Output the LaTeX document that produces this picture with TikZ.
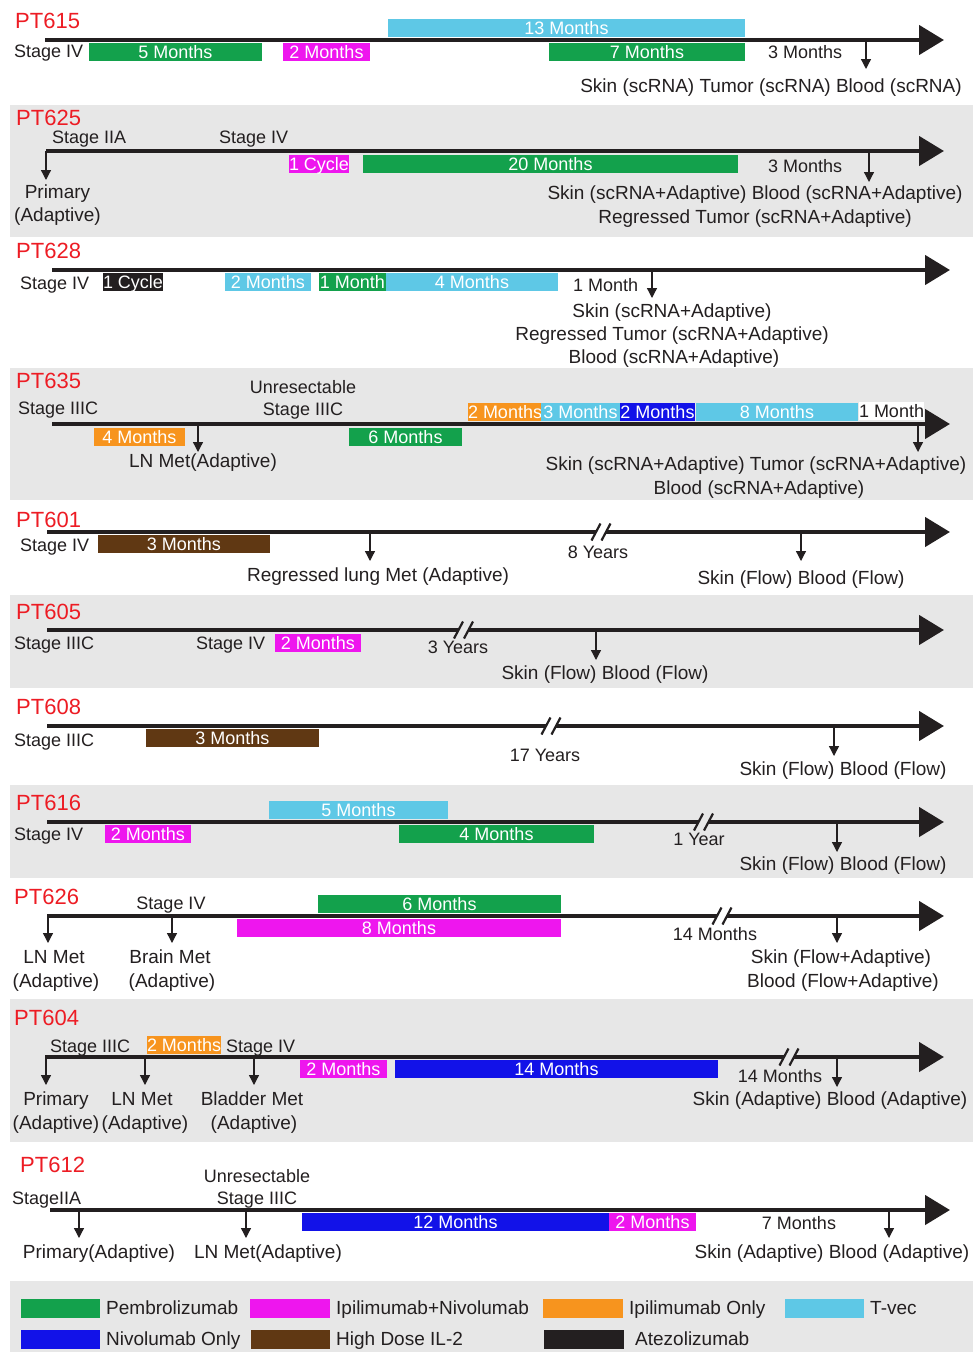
\documentclass[tikz,border=0pt]{standalone}
\usepackage{fontspec}
\setmainfont{Liberation Sans}
\usetikzlibrary{arrows.meta}
\definecolor{pemb}{RGB}{19,161,76}
\definecolor{ipn}{RGB}{238,22,238}
\definecolor{ipi}{RGB}{247,148,30}
\definecolor{tvec}{RGB}{94,200,230}
\definecolor{nivo}{RGB}{18,18,232}
\definecolor{iltwo}{RGB}{96,56,19}
\definecolor{atez}{RGB}{35,31,32}
\definecolor{bgg}{RGB}{231,231,231}
\definecolor{ink}{RGB}{35,31,32}
\definecolor{ptred}{RGB}{237,28,36}
\newcommand{\fsS}{\fontsize{19}{23}\selectfont}
\newcommand{\fsT}{\fontsize{18}{22}\selectfont}
\newcommand{\fsP}{\fontsize{22}{26}\selectfont}
\newcommand{\tlbreak}[3]{%
  \fill[#3] (#1-9.5,#2+8.5) -- (#1-0.5,#2-8.5) -- (#1+9.5,#2-8.5) -- (#1+0.5,#2+8.5) -- cycle;
  \draw[ink, line width=2.2pt] (#1-9.5,#2+8.5) -- (#1-0.5,#2-8.5) (#1+0.5,#2+8.5) -- (#1+9.5,#2-8.5);}
\begin{document}
\begin{tikzpicture}[x=1pt,y=-1pt,
  tl/.style={ink, line width=4.6pt, -{Triangle[length=25pt,width=29pt]}},
  da/.style={ink, line width=1.3pt, -{Triangle[length=10pt,width=10pt]}},
  samp/.style={font=\fsS, text=ink, inner sep=0pt, anchor=base, yshift=-6.8pt},
  tx/.style={font=\fsT, text=ink, inner sep=0pt, anchor=base, yshift=-6.45pt},
  ptl/.style={font=\fsP, text=ptred, inner sep=0pt, anchor=base west, yshift=-7.9pt},
  barn/.style={rectangle, draw=none, inner sep=0pt, outer sep=0pt, minimum height=18pt,
    anchor=north west, text=white, font=\fsT, text height=12.9pt, text depth=0pt},
  band/.style={fill=bgg}]
\useasboundingbox (0,0) rectangle (974,1352);
\fill[white] (0,0) rectangle (974,1352);

% ---------------- PT615
\node[ptl] (n615) at (15,20.5) {PT615};
\node[barn, fill=tvec, minimum width=357pt] (b615a) at (388,19) {13 Months};
\node[barn, fill=pemb, minimum width=173pt] (b615b) at (89,43) {5 Months};
\node[barn, fill=ipn, minimum width=87pt] (b615c) at (283,43) {2 Months};
\node[barn, fill=pemb, minimum width=196pt] (b615d) at (549,43) {7 Months};
\coordinate (l615a) at (45,40); \coordinate (l615b) at (944,40);
\draw[tl] (l615a) -- (l615b);
\node[tx, anchor=base west] (st615) at (14,51) {Stage IV};
\node[tx, anchor=base west] (m615) at (768,52) {3 Months};
\coordinate (d615a) at (866,40); \coordinate (d615b) at (866,69);
\draw[da] (d615a) -- (d615b);
\node[samp] (s615) at (771,86) {Skin (scRNA) Tumor (scRNA) Blood (scRNA)};

% ---------------- PT625
\fill[band] (10,105) rectangle (973,237);
\node[ptl] (n625) at (16,117.5) {PT625};
\node[tx, anchor=base west] (st625a) at (52,137) {Stage IIA};
\node[tx, anchor=base west] (st625b) at (219,137) {Stage IV};
\node[barn, fill=ipn, minimum width=60pt] (b625a) at (289,155) {1 Cycle};
\node[barn, fill=pemb, minimum width=375pt] (b625b) at (363,155) {20 Months};
\coordinate (l625a) at (46,151); \coordinate (l625b) at (944,151);
\draw[tl] (l625a) -- (l625b);
\node[tx, anchor=base west] (m625) at (768,166) {3 Months};
\coordinate (d625a) at (46,151); \coordinate (d625b) at (46,180);
\draw[da] (d625a) -- (d625b);
\coordinate (d625c) at (869,151); \coordinate (d625d) at (869,182);
\draw[da] (d625c) -- (d625d);
\node[samp] (s625a) at (57.5,192) {Primary};
\node[samp] (s625b) at (57.5,215) {(Adaptive)};
\node[samp] (s625c) at (755,193) {Skin (scRNA+Adaptive) Blood (scRNA+Adaptive)};
\node[samp] (s625d) at (755,217) {Regressed Tumor (scRNA+Adaptive)};

% ---------------- PT628
\node[ptl] (n628) at (16,251) {PT628};
\node[barn, fill=atez, minimum width=59pt] (b628a) at (103,273) {1 Cycle};
\node[barn, fill=tvec, minimum width=86pt] (b628b) at (225,273) {2 Months};
\node[barn, fill=pemb, minimum width=67pt] (b628c) at (319,273) {1 Month};
\node[barn, fill=tvec, minimum width=172pt] (b628d) at (386,273) {4 Months};
\coordinate (l628a) at (52,270); \coordinate (l628b) at (950,270);
\draw[tl] (l628a) -- (l628b);
\node[tx, anchor=base west] (st628) at (20,283) {Stage IV};
\node[tx, anchor=base west] (m628) at (573,285) {1 Month};
\coordinate (d628a) at (652,270); \coordinate (d628b) at (652,298);
\draw[da] (d628a) -- (d628b);
\node[samp] (s628a) at (672,311) {Skin (scRNA+Adaptive)};
\node[samp] (s628b) at (672,334) {Regressed Tumor (scRNA+Adaptive)};
\node[samp] (s628c) at (674,357) {Blood (scRNA+Adaptive)};

% ---------------- PT635
\fill[band] (10,368) rectangle (973,500);
\node[ptl] (n635) at (16,381) {PT635};
\node[tx, anchor=base west] (st635a) at (18,408) {Stage IIIC};
\node[tx] (st635b) at (303,387) {Unresectable};
\node[tx] (st635c) at (303,409) {Stage IIIC};
\node[barn, fill=ipi, minimum width=91pt] (b635a) at (94,428) {4 Months};
\node[barn, fill=pemb, minimum width=113pt] (b635b) at (349,428) {6 Months};
\node[barn, fill=ipi, minimum width=73pt] (b635c) at (468,403) {2 Months};
\node[barn, fill=tvec, minimum width=79pt] (b635d) at (541,403) {3 Months};
\node[barn, fill=nivo, minimum width=75pt] (b635e) at (620,403) {2 Months};
\node[barn, fill=tvec, minimum width=162pt] (b635f) at (696,403) {8 Months};
\node[barn, fill=white, text=ink, minimum width=65pt] (b635g) at (859,402) {1 Month};
\coordinate (l635a) at (52,424); \coordinate (l635b) at (950,424);
\draw[tl] (l635a) -- (l635b);
\coordinate (d635a) at (198,424); \coordinate (d635b) at (198,452);
\draw[da] (d635a) -- (d635b);
\coordinate (d635c) at (918,424); \coordinate (d635d) at (918,452);
\draw[da] (d635c) -- (d635d);
\node[samp] (s635a) at (203,461) {LN Met(Adaptive)};
\node[samp] (s635b) at (756,464) {Skin (scRNA+Adaptive) Tumor (scRNA+Adaptive)};
\node[samp] (s635c) at (759,488) {Blood (scRNA+Adaptive)};

% ---------------- PT601
\node[ptl] (n601) at (16,520) {PT601};
\node[barn, fill=iltwo, minimum width=172pt] (b601a) at (98,535) {3 Months};
\coordinate (l601a) at (47,532); \coordinate (l601b) at (950,532);
\draw[tl] (l601a) -- (l601b);
\tlbreak{601}{532}{white}
\node[tx, anchor=base west] (st601) at (20,545) {Stage IV};
\coordinate (d601a) at (370,532); \coordinate (d601b) at (370,561);
\draw[da] (d601a) -- (d601b);
\coordinate (d601c) at (801,532); \coordinate (d601d) at (801,561);
\draw[da] (d601c) -- (d601d);
\node[samp] (s601a) at (378,575) {Regressed lung Met (Adaptive)};
\node[tx] (y601) at (598,552) {8 Years};
\node[samp] (s601b) at (801,578) {Skin (Flow) Blood (Flow)};

% ---------------- PT605
\fill[band] (10,595) rectangle (973,688);
\node[ptl] (n605) at (16,612) {PT605};
\node[barn, fill=ipn, minimum width=86pt] (b605a) at (275,634) {2 Months};
\coordinate (l605a) at (47,630); \coordinate (l605b) at (944,630);
\draw[tl] (l605a) -- (l605b);
\tlbreak{463.5}{630}{bgg}
\node[tx, anchor=base west] (st605a) at (14,643) {Stage IIIC};
\node[tx, anchor=base west] (st605b) at (196,643) {Stage IV};
\node[tx] (y605) at (458,647) {3 Years};
\coordinate (d605a) at (596,630); \coordinate (d605b) at (596,660);
\draw[da] (d605a) -- (d605b);
\node[samp] (s605) at (605,673) {Skin (Flow) Blood (Flow)};

% ---------------- PT608
\node[ptl] (n608) at (16,707) {PT608};
\node[barn, fill=iltwo, minimum width=173pt] (b608a) at (146,729) {3 Months};
\coordinate (l608a) at (47,726); \coordinate (l608b) at (944,726);
\draw[tl] (l608a) -- (l608b);
\tlbreak{551}{726}{white}
\node[tx, anchor=base west] (st608) at (14,740) {Stage IIIC};
\node[tx] (y608) at (545,755) {17 Years};
\coordinate (d608a) at (834,726); \coordinate (d608b) at (834,756);
\draw[da] (d608a) -- (d608b);
\node[samp] (s608) at (843,769) {Skin (Flow) Blood (Flow)};

% ---------------- PT616
\fill[band] (10,785) rectangle (973,878);
\node[ptl] (n616) at (16,803) {PT616};
\node[barn, fill=tvec, minimum width=179pt] (b616a) at (269,801) {5 Months};
\node[barn, fill=ipn, minimum width=86pt] (b616b) at (105,825) {2 Months};
\node[barn, fill=pemb, minimum width=195pt] (b616c) at (399,825) {4 Months};
\coordinate (l616a) at (47,822); \coordinate (l616b) at (944,822);
\draw[tl] (l616a) -- (l616b);
\tlbreak{703.5}{822}{bgg}
\node[tx, anchor=base west] (st616) at (14,834) {Stage IV};
\node[tx] (y616) at (699,839) {1 Year};
\coordinate (d616a) at (837,822); \coordinate (d616b) at (837,852);
\draw[da] (d616a) -- (d616b);
\node[samp] (s616) at (843,864) {Skin (Flow) Blood (Flow)};

% ---------------- PT626
\node[ptl] (n626) at (14,897) {PT626};
\node[tx] (st626) at (171,903) {Stage IV};
\node[barn, fill=pemb, minimum width=243pt] (b626a) at (318,895) {6 Months};
\node[barn, fill=ipn, minimum width=324pt] (b626b) at (237,919) {8 Months};
\coordinate (l626a) at (47,916); \coordinate (l626b) at (944,916);
\draw[tl] (l626a) -- (l626b);
\tlbreak{722}{916}{white}
\coordinate (d626a) at (48,916); \coordinate (d626b) at (48,943);
\draw[da] (d626a) -- (d626b);
\coordinate (d626c) at (172,916); \coordinate (d626d) at (172,943);
\draw[da] (d626c) -- (d626d);
\coordinate (d626e) at (837,916); \coordinate (d626f) at (837,943);
\draw[da] (d626e) -- (d626f);
\node[samp] (s626a) at (54,957) {LN Met};
\node[samp] (s626b) at (56,981) {(Adaptive)};
\node[samp] (s626c) at (170,957) {Brain Met};
\node[samp] (s626d) at (172,981) {(Adaptive)};
\node[tx] (y626) at (715,934) {14 Months};
\node[samp] (s626e) at (841,957) {Skin (Flow+Adaptive)};
\node[samp] (s626f) at (843,981) {Blood (Flow+Adaptive)};

% ---------------- PT604
\fill[band] (10,999) rectangle (973,1142);
\node[ptl] (n604) at (14,1018) {PT604};
\node[tx, anchor=base west] (st604a) at (50,1046) {Stage IIIC};
\node[barn, fill=ipi, minimum width=73pt] (b604a) at (147,1036) {2 Months};
\node[tx, anchor=base west] (st604b) at (226,1046) {Stage IV};
\node[barn, fill=ipn, minimum width=87pt] (b604b) at (300,1060) {2 Months};
\node[barn, fill=nivo, minimum width=323pt] (b604c) at (395,1060) {14 Months};
\coordinate (l604a) at (45,1057); \coordinate (l604b) at (944,1057);
\draw[tl] (l604a) -- (l604b);
\tlbreak{789}{1057}{bgg}
\coordinate (d604a) at (46,1057); \coordinate (d604b) at (46,1085);
\draw[da] (d604a) -- (d604b);
\coordinate (d604c) at (145,1057); \coordinate (d604d) at (145,1085);
\draw[da] (d604c) -- (d604d);
\coordinate (d604e) at (254,1057); \coordinate (d604f) at (254,1085);
\draw[da] (d604e) -- (d604f);
\coordinate (d604g) at (837,1057); \coordinate (d604h) at (837,1087);
\draw[da] (d604g) -- (d604h);
\node[tx] (y604) at (780,1076) {14 Months};
\node[samp] (s604a) at (56,1099) {Primary};
\node[samp] (s604b) at (56,1123) {(Adaptive)};
\node[samp] (s604c) at (142,1099) {LN Met};
\node[samp] (s604d) at (145,1123) {(Adaptive)};
\node[samp] (s604e) at (252,1099) {Bladder Met};
\node[samp] (s604f) at (254,1123) {(Adaptive)};
\node[samp] (s604g) at (830,1099) {Skin (Adaptive) Blood (Adaptive)};

% ---------------- PT612
\node[ptl] (n612) at (20,1165) {PT612};
\node[tx] (st612a) at (257,1176) {Unresectable};
\node[tx] (st612b) at (257,1198) {Stage IIIC};
\node[tx, anchor=base west] (st612c) at (12,1198) {StageIIA};
\node[barn, fill=nivo, minimum width=307pt] (b612a) at (302,1213) {12 Months};
\node[barn, fill=ipn, minimum width=87pt] (b612b) at (609,1213) {2 Months};
\coordinate (l612a) at (50,1210); \coordinate (l612b) at (950,1210);
\draw[tl] (l612a) -- (l612b);
\coordinate (d612a) at (79,1210); \coordinate (d612b) at (79,1238);
\draw[da] (d612a) -- (d612b);
\coordinate (d612c) at (246,1210); \coordinate (d612d) at (246,1238);
\draw[da] (d612c) -- (d612d);
\coordinate (d612e) at (889,1210); \coordinate (d612f) at (889,1238);
\draw[da] (d612e) -- (d612f);
\node[tx] (m612) at (799,1223) {7 Months};
\node[samp] (s612a) at (99,1252) {Primary(Adaptive)};
\node[samp] (s612b) at (268,1252) {LN Met(Adaptive)};
\node[samp] (s612c) at (832,1252) {Skin (Adaptive) Blood (Adaptive)};

% ---------------- Legend
\fill[band] (10,1281) rectangle (973,1352);
\node[barn, fill=pemb, minimum width=79pt, minimum height=19pt] (k1) at (21,1299) {};
\node[samp, anchor=base west] (t1) at (106,1308) {Pembrolizumab};
\node[barn, fill=ipn, minimum width=80pt, minimum height=19pt] (k2) at (250,1299) {};
\node[samp, anchor=base west] (t2) at (336,1308) {Ipilimumab+Nivolumab};
\node[barn, fill=ipi, minimum width=80pt, minimum height=19pt] (k3) at (543,1299) {};
\node[samp, anchor=base west] (t3) at (629,1308) {Ipilimumab Only};
\node[barn, fill=tvec, minimum width=79pt, minimum height=19pt] (k4) at (785,1299) {};
\node[samp, anchor=base west] (t4) at (870,1308) {T-vec};
\node[barn, fill=nivo, minimum width=79pt, minimum height=19pt] (k5) at (21,1329.5) {};
\node[samp, anchor=base west] (t5) at (106,1339) {Nivolumab Only};
\node[barn, fill=iltwo, minimum width=79pt, minimum height=19pt] (k6) at (251,1329.5) {};
\node[samp, anchor=base west] (t6) at (336,1339) {High Dose IL-2};
\node[barn, fill=atez, minimum width=80pt, minimum height=19pt] (k7) at (544,1329.5) {};
\node[samp, anchor=base west] (t7) at (635,1339) {Atezolizumab};
\end{tikzpicture}
\end{document}
